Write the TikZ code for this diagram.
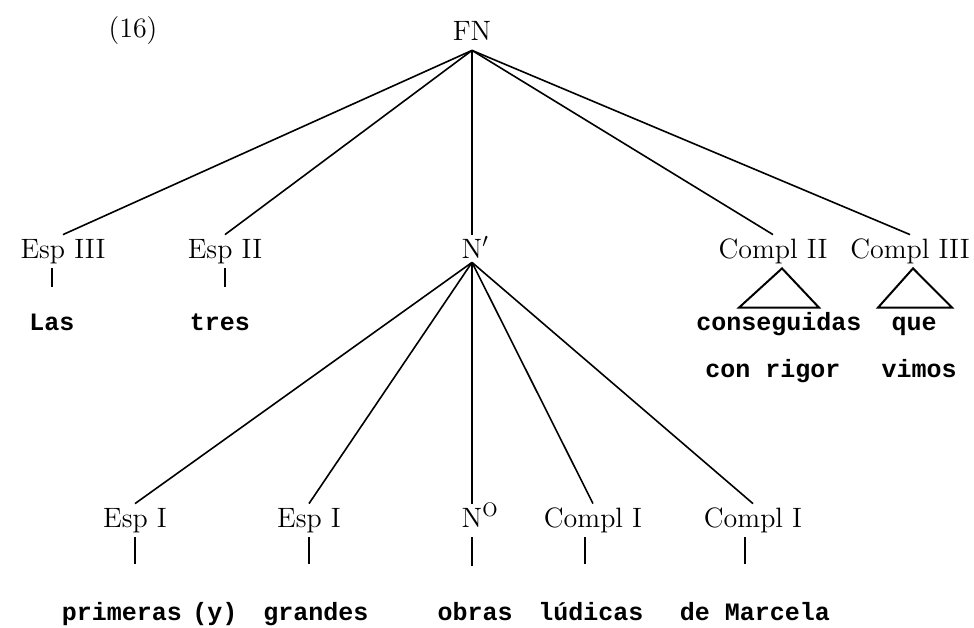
\documentclass[tikz,border=0pt]{standalone}
\usepackage{fontspec}
\newfontfamily\leaffont{Liberation Mono}
\begin{document}
\begin{tikzpicture}[x=0.5pt, y=-0.5pt,
  cat/.style={anchor=base, font=\fontsize{14}{16}\selectfont, inner xsep=1pt, inner ysep=2pt, text height=9.5pt, text depth=3pt},
  word/.style={anchor=base, font=\leaffont\bfseries\fontsize{12.5}{14}\selectfont, inner sep=2pt, text height=9pt, text depth=3pt},
  branch/.style={line width=0.8pt},
  stub/.style={line width=1.4pt, shorten >=#1},
  tri/.style={line width=1pt, line join=miter}]
  \useasboundingbox (0,0) rectangle (974,627);
  % Example number and root
  \node[cat] (exnum) at (133,37) {(16)};
  \node[cat] (fn) at (472,40) {FN};
  % First level under FN
  \node[cat] (espIII) at (63,258) {Esp III};
  \node[cat] (espII) at (225,258) {Esp II};
  \node[cat] (nbar) at (472,258) {N\rlap{$'$}};
  \node[cat] (complII) at (773,258) {Compl II};
  \node[cat] (complIII) at (910,258) {Compl III};
  \foreach \k in {espIII, espII, nbar, complII, complIII}
    \draw[branch] (fn.south) -- (\k.north);
  % Words of the first level
  \node[word] (las) at (52,330) {Las};
  \node[word] (tres) at (220,330) {tres};
  \node[word] (conseg) at (779,330) {conseguidas};
  \node[word] (rigor) at (773,377) {con rigor};
  \node[word] (que) at (914,330) {que};
  \node[word] (vimos) at (919,377) {vimos};
  \draw[stub=10.5pt] (las.north |- espIII.south) -- (las.north);
  \draw[stub=10.5pt] (espII.south) -- (espII.south |- tres.north);
  % Triangles for the unanalysed complements
  \draw[tri] ([xshift=4.5pt]complII.south) -- ([xshift=-20pt]conseg.north) -- ([xshift=20pt]conseg.north) -- cycle;
  \draw[tri] ([xshift=1.5pt]complIII.south) -- ([xshift=-18pt]que.north) -- ([xshift=19pt]que.north) -- cycle;
  % Second level under N'
  \node[cat] (espIa) at (135,527) {Esp I};
  \node[cat] (espIb) at (309,527) {Esp I};
  \node[cat] (nzero) at (472,527) {N\rlap{$^{\mathrm{O}}$}};
  \node[cat] (complIa) at (593,527) {Compl I};
  \node[cat] (complIb) at (753,527) {Compl I};
  \foreach \k in {espIa, espIb, nzero, complIa, complIb}
    \draw[branch] ([yshift=3pt]nbar.south) -- (\k.north);
  % Words of the second level
  \node[word] (primeras) at (122,620) {primeras};
  \node[word] (yconj) at (215,620) {(y)};
  \node[word] (grandes) at (316,620) {grandes};
  \node[word] (obras) at (475,620) {obras};
  \node[word] (ludicas) at (591,620) {lúdicas};
  \node[word] (marcela) at (755,620) {de Marcela};
  \draw[stub=17pt] (espIa.south) -- (espIa.south |- primeras.north);
  \draw[stub=17pt] (espIb.south) -- (espIb.south |- grandes.north);
  \draw[stub=16pt] (nzero.south) -- (nzero.south |- obras.north);
  \draw[stub=17pt] ([xshift=-4pt]complIa.south) -- ([xshift=-4pt]complIa.south |- ludicas.north);
  \draw[stub=17pt] ([xshift=-4pt]complIb.south) -- ([xshift=-4pt]complIb.south |- marcela.north);
\end{tikzpicture}
\end{document}
